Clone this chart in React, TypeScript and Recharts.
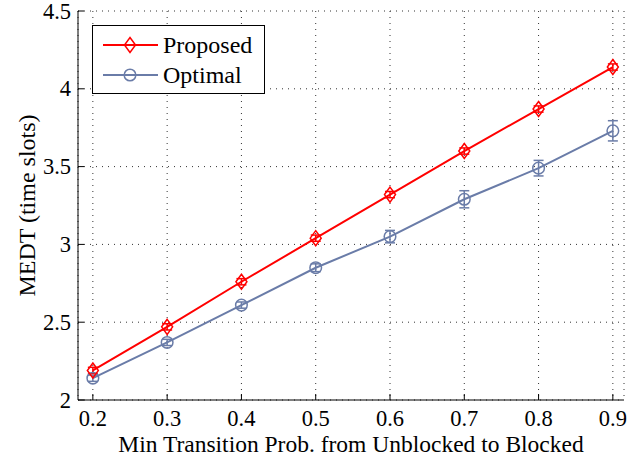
import { LineChart, Line, XAxis, YAxis, CartesianGrid, ErrorBar, Legend } from 'recharts';

// transition probabilities on the x axis
const probs = [0.2, 0.3, 0.4, 0.5, 0.6, 0.7, 0.8, 0.9];

// mean delay (time slots) with +/- spread
const proposed = [2.19, 2.47, 2.76, 3.04, 3.32, 3.6, 3.87, 4.14];
const proposedErr = [0.02, 0.02, 0.02, 0.02, 0.02, 0.02, 0.02, 0.02];
const optimal = [2.14, 2.37, 2.61, 2.85, 3.05, 3.29, 3.49, 3.73];
const optimalErr = [0.02, 0.02, 0.02, 0.025, 0.04, 0.055, 0.05, 0.065];

const xTicks = [0.2, 0.3, 0.4, 0.5, 0.6, 0.7, 0.8, 0.9];
const yTicks = [2, 2.5, 3, 3.5, 4, 4.5];

const data = probs.map((p, i) => ({
  p,
  proposed: proposed[i],
  proposedErr: proposedErr[i],
  optimal: optimal[i],
  optimalErr: optimalErr[i],
}));

const FONT = '"Liberation Serif", "Times New Roman", serif';
const RED = '#ff0000';
const BLUE = '#6a7ca8';
const TICK = 6;

const Diamond = ({ cx, cy, stroke = RED }: any) => (
  <path
    d={`M${cx},${cy - 7.5} L${cx + 5.5},${cy} L${cx},${cy + 7.5} L${cx - 5.5},${cy} Z`}
    fill="none"
    stroke={stroke}
    strokeWidth={1.5}
  />
);

const Ring = ({ cx, cy, stroke = BLUE }: any) => (
  <circle cx={cx} cy={cy} r={5.8} fill="none" stroke={stroke} strokeWidth={1.5} />
);

// bottom axis: inward tick mark + label below
const BottomTick = ({ x, y, payload }: any) => (
  <g>
    <line x1={x} x2={x} y1={y} y2={y - TICK} stroke="#000" />
    <text x={x} y={y + 26} textAnchor="middle" fontFamily={FONT} fontSize={22.5} fill="#000">
      {payload.value}
    </text>
  </g>
);

// left axis: inward tick mark + label to the left
const LeftTick = ({ x, y, payload }: any) => (
  <g>
    <line x1={x} x2={x + TICK} y1={y} y2={y} stroke="#000" />
    <text x={x - 7} y={y} textAnchor="end" dominantBaseline="central" fontFamily={FONT} fontSize={22.5} fill="#000">
      {payload.value}
    </text>
  </g>
);

const TopTick = ({ x, y }: any) => <line x1={x} x2={x} y1={y} y2={y + TICK} stroke="#000" />;
const RightTick = ({ x, y }: any) => <line x1={x} x2={x - TICK} y1={y} y2={y} stroke="#000" />;

const LegendBox = () => (
  <svg width={173} height={69} style={{ display: 'block' }}>
    <rect x={0.5} y={0.5} width={172} height={68} fill="#fff" stroke="#000" />
    <line x1={11} x2={66} y1={20} y2={20} stroke={RED} strokeWidth={2} />
    <Diamond cx={38} cy={20} />
    <text x={71} y={20} dominantBaseline="central" fontFamily={FONT} fontSize={24} fill="#000">
      Proposed
    </text>
    <line x1={11} x2={66} y1={50} y2={50} stroke={BLUE} strokeWidth={2} />
    <Ring cx={38} cy={50} />
    <text x={71} y={50} dominantBaseline="central" fontFamily={FONT} fontSize={24} fill="#000">
      Optimal
    </text>
  </svg>
);

export default function App() {
  return (
    <div style={{ position: 'absolute', left: 0, top: 0, background: '#fff' }}>
      <LineChart width={630} height={459} data={data} margin={{ top: 11, right: 6, bottom: 0, left: 0 }}>
        <CartesianGrid stroke="#333" strokeDasharray="1 5" />
        <XAxis
          dataKey="p"
          type="number"
          domain={[0.18, 0.915]}
          ticks={xTicks}
          height={59}
          tickSize={0}
          tickMargin={0}
          tick={<BottomTick />}
          axisLine={{ stroke: '#000' }}
          allowDataOverflow
          label={{
            content: ({ viewBox }: any) => (
              <text
                x={viewBox.x + viewBox.width / 2}
                y={viewBox.y + 52}
                textAnchor="middle"
                fontFamily={FONT}
                fontSize={23.5}
                fill="#000"
              >
                Min Transition Prob. from Unblocked to Blocked
              </text>
            ),
          }}
        />
        <XAxis
          xAxisId="top"
          orientation="top"
          dataKey="p"
          type="number"
          domain={[0.18, 0.915]}
          ticks={xTicks}
          height={0}
          tickSize={0}
          tickMargin={0}
          tick={<TopTick />}
          axisLine={{ stroke: '#000' }}
          allowDataOverflow
        />
        <YAxis
          type="number"
          domain={[2, 4.5]}
          ticks={yTicks}
          width={78}
          tickSize={0}
          tickMargin={0}
          tick={<LeftTick />}
          axisLine={{ stroke: '#000' }}
          allowDataOverflow
          label={{
            content: ({ viewBox }: any) => {
              const cx = viewBox.x + 27;
              const cy = viewBox.y + viewBox.height / 2;
              return (
                <text
                  x={cx}
                  y={cy}
                  transform={`rotate(-90 ${cx} ${cy})`}
                  textAnchor="middle"
                  dominantBaseline="central"
                  fontFamily={FONT}
                  fontSize={24}
                  fill="#000"
                >
                  MEDT (time slots)
                </text>
              );
            },
          }}
        />
        <YAxis
          yAxisId="right"
          orientation="right"
          type="number"
          domain={[2, 4.5]}
          ticks={yTicks}
          width={0}
          tickSize={0}
          tickMargin={0}
          tick={<RightTick />}
          axisLine={{ stroke: '#000' }}
          allowDataOverflow
        />
        <Legend
          layout="vertical"
          align="center"
          verticalAlign="middle"
          wrapperStyle={{ left: 92, top: 25, width: 173, height: 69 }}
          content={() => <LegendBox />}
        />
        <Line
          dataKey="optimal"
          name="Optimal"
          stroke={BLUE}
          strokeWidth={2}
          dot={(props: any) => <Ring key={`o-${props.index}`} cx={props.cx} cy={props.cy} />}
          isAnimationActive={false}
        >
          <ErrorBar dataKey="optimalErr" direction="y" width={5} stroke={BLUE} strokeWidth={1.5} />
        </Line>
        <Line
          dataKey="proposed"
          name="Proposed"
          stroke={RED}
          strokeWidth={2}
          dot={(props: any) => <Diamond key={`p-${props.index}`} cx={props.cx} cy={props.cy} />}
          isAnimationActive={false}
        >
          <ErrorBar dataKey="proposedErr" direction="y" width={5} stroke={RED} strokeWidth={1.5} />
        </Line>
      </LineChart>
    </div>
  );
}
